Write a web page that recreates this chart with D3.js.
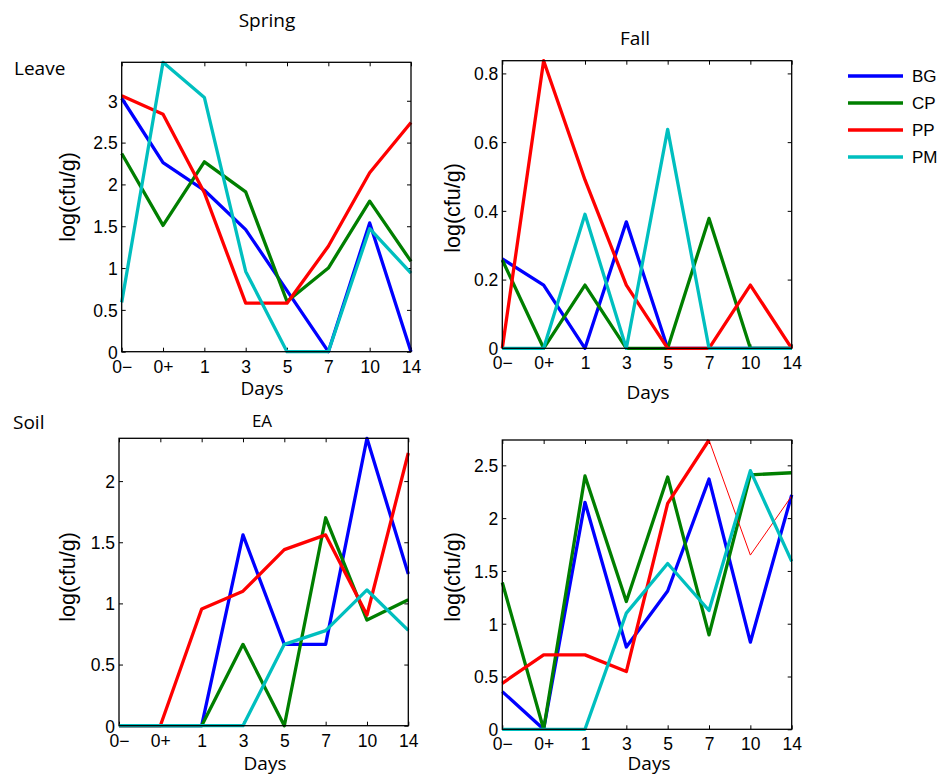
<!DOCTYPE html>
<html>
<head>
<meta charset="utf-8">
<script src="https://cdn.jsdelivr.net/npm/d3@7"></script>
<style>
  html, body { margin: 0; padding: 0; background: #fff; }
  svg { display: block; }
</style>
</head>
<body>
<svg id="chart" width="941" height="776"></svg>
<script>
// ---------- DATA ----------
const days = ["0\u2212", "0+", "1", "3", "5", "7", "10", "14"];
const seriesNames = ["BG", "CP", "PP", "PM"];

// Leave, Spring
const springLeaveBG = [3.03, 2.26, 1.93, 1.46, 0.73, 0, 1.54, 0];
const springLeaveCP = [2.37, 1.51, 2.27, 1.91, 0.60, 1.00, 1.80, 1.08];
const springLeavePP = [3.06, 2.84, 1.90, 0.58, 0.58, 1.26, 2.14, 2.74];
const springLeavePM = [0.59, 3.46, 3.04, 0.96, 0, 0, 1.47, 0.94];

// Leave, Fall
const fallLeaveBG = [0.26, 0.184, 0, 0.368, 0, 0, 0, 0];
const fallLeaveCP = [0.257, 0, 0.184, 0, 0, 0.378, 0, 0];
const fallLeavePP = [0, 0.837, 0.49, 0.184, 0, 0, 0.184, 0];
const fallLeavePM = [0, 0, 0.39, 0, 0.637, 0, 0, 0];

// Soil, EA (spring)
const springSoilBG = [0, 0, 0, 1.56, 0.665, 0.665, 2.35, 1.24];
const springSoilCP = [0, 0, 0, 0.665, 0, 1.70, 0.864, 1.03];
const springSoilPP = [0, 0, 0.954, 1.10, 1.44, 1.56, 0.905, 2.23];
const springSoilPM = [0, 0, 0, 0, 0.665, 0.777, 1.11, 0.78];

// Soil, fall
const fallSoilBG = [0.357, 0, 2.15, 0.78, 1.31, 2.37, 0.825, 2.22];
const fallSoilCP = [1.39, 0, 2.40, 1.21, 2.39, 0.894, 2.41, 2.43];
const fallSoilPP = [0.436, 0.705, 0.705, 0.547, 2.14, 2.74, 1.65, 2.21];
const fallSoilPM = [0, 0, 0, 1.10, 1.57, 1.125, 2.45, 1.59];

// Y tick values
const springLeaveTicks = [0, 0.5, 1, 1.5, 2, 2.5, 3];
const fallLeaveTicks = [0, 0.2, 0.4, 0.6, 0.8];
const springSoilTicks = [0, 0.5, 1, 1.5, 2];
const fallSoilTicks = [0, 0.5, 1, 1.5, 2, 2.5];

const colors = ["#0000ff", "#007f00", "#ff0000", "#00bfbf"];

// ---------- LAYOUT ----------
const svg = d3.select("#chart");
svg.append("rect").attr("width", 941).attr("height", 776).attr("fill", "#fff");

const tickFont = "'Liberation Sans', Arial, Helvetica, sans-serif";
const titleFont = "'Open Sans', 'DejaVu Sans', sans-serif";

const panels = [
  { box: [121.7, 411, 62.3, 351.7], series: [springLeaveBG, springLeaveCP, springLeavePP, springLeavePM],
    ticks: springLeaveTicks, title: "Spring", titleX: 267, titleY: 27, titleSize: 19,
    ylab: [67.5, 197], daysPos: [262, 395] },
  { box: [502.3, 791.7, 60.7, 348.3], series: [fallLeaveBG, fallLeaveCP, fallLeavePP, fallLeavePM],
    ticks: fallLeaveTicks, title: "Fall", titleX: 635, titleY: 45, titleSize: 19,
    ylab: [452.5, 208], daysPos: [648, 399] },
  { box: [119, 408.3, 438.3, 725.7], series: [springSoilBG, springSoilCP, springSoilPP, springSoilPM],
    ticks: springSoilTicks, title: "EA", titleX: 262, titleY: 427, titleSize: 17,
    ylab: [67.5, 577], daysPos: [265, 770] },
  { box: [502.3, 791.7, 440, 729.3], series: [fallSoilBG, fallSoilCP, fallSoilPP, fallSoilPM],
    ticks: fallSoilTicks, title: null,
    ylab: [452.5, 577], daysPos: [649, 770], thinAfter: { series: 2, index: 5 } }
];

const fmt = d => d3.format("~g")(d);

panels.forEach(p => {
  const [l, r, t, b] = p.box;
  const ymax = d3.max(p.series.flat());
  const x = d3.scalePoint().domain(days).range([l, r]);
  const y = d3.scaleLinear().domain([0, ymax]).range([b, t]);
  const g = svg.append("g");

  // Axes with inward ticks on all sides
  const axL = g.append("g").attr("transform", `translate(${l},0)`)
    .call(d3.axisLeft(y).tickValues(p.ticks).tickFormat(fmt).tickSizeInner(-4).tickSizeOuter(0).tickPadding(4));
  const axR = g.append("g").attr("transform", `translate(${r},0)`)
    .call(d3.axisRight(y).tickValues(p.ticks).tickFormat("").tickSizeInner(-4).tickSizeOuter(0));
  const axB = g.append("g").attr("transform", `translate(0,${b})`)
    .call(d3.axisBottom(x).tickSizeInner(-4).tickSizeOuter(0).tickPadding(8));
  const axT = g.append("g").attr("transform", `translate(0,${t})`)
    .call(d3.axisTop(x).tickFormat("").tickSizeInner(-4).tickSizeOuter(0));
  [axL, axR, axB, axT].forEach(a => {
    a.select(".domain").remove();
    a.selectAll(".tick line").attr("stroke", "#000").attr("stroke-width", 1);
    a.selectAll("text").attr("font-family", tickFont).attr("font-size", 17.5).attr("fill", "#000");
  });
  axL.selectAll("text").attr("dy", "0.36em").attr("x", -4);
  axB.selectAll("text").attr("dy", null).attr("y", 21);

  // Lines
  p.series.forEach((vals, si) => {
    const thin = p.thinAfter && p.thinAfter.series === si ? p.thinAfter.index : null;
    const pts = vals.map((v, i) => [i, v]);
    const ln = d3.line().x(d => x(days[d[0]])).y(d => y(d[1]));
    if (thin === null) {
      g.append("path").attr("d", ln(pts)).attr("fill", "none")
        .attr("stroke", colors[si]).attr("stroke-width", 3.3).attr("stroke-linejoin", "round");
    } else {
      g.append("path").attr("d", ln(pts.slice(0, thin + 1))).attr("fill", "none")
        .attr("stroke", colors[si]).attr("stroke-width", 3.3).attr("stroke-linejoin", "round");
      g.append("path").attr("d", ln(pts.slice(thin))).attr("fill", "none")
        .attr("stroke", colors[si]).attr("stroke-width", 1).attr("stroke-linejoin", "round");
    }
  });

  // Box
  g.append("rect").attr("x", l).attr("y", t).attr("width", r - l).attr("height", b - t)
    .attr("fill", "none").attr("stroke", "#000").attr("stroke-width", 1.3);

  // Labels
  if (p.title) {
    g.append("text").attr("x", p.titleX).attr("y", p.titleY).attr("text-anchor", "middle")
      .attr("font-family", titleFont).attr("font-size", p.titleSize).text(p.title);
  }
  g.append("text").attr("x", p.daysPos[0]).attr("y", p.daysPos[1]).attr("text-anchor", "middle")
    .attr("font-family", titleFont).attr("font-size", 19).text("Days");
  g.append("text").attr("transform", `translate(${p.ylab[0]},${p.ylab[1]}) rotate(-90)`)
    .attr("text-anchor", "middle").attr("dominant-baseline", "central")
    .attr("font-family", tickFont).attr("font-size", 21.5).text("log(cfu/g)");
});

// Row labels
svg.append("text").attr("x", 14).attr("y", 75).attr("font-family", titleFont).attr("font-size", 19).text("Leave");
svg.append("text").attr("x", 13).attr("y", 429).attr("font-family", titleFont).attr("font-size", 19).text("Soil");

// Legend
const legendY = d3.scalePoint().domain(seriesNames).range([76, 157]);
const leg = svg.append("g");
seriesNames.forEach((n, i) => {
  leg.append("line").attr("x1", 848).attr("x2", 903).attr("y1", legendY(n)).attr("y2", legendY(n))
    .attr("stroke", colors[i]).attr("stroke-width", 3.3);
  leg.append("text").attr("x", 912).attr("y", legendY(n)).attr("dy", "0.36em")
    .attr("font-family", tickFont).attr("font-size", 17).text(n);
});
</script>
</body>
</html>
